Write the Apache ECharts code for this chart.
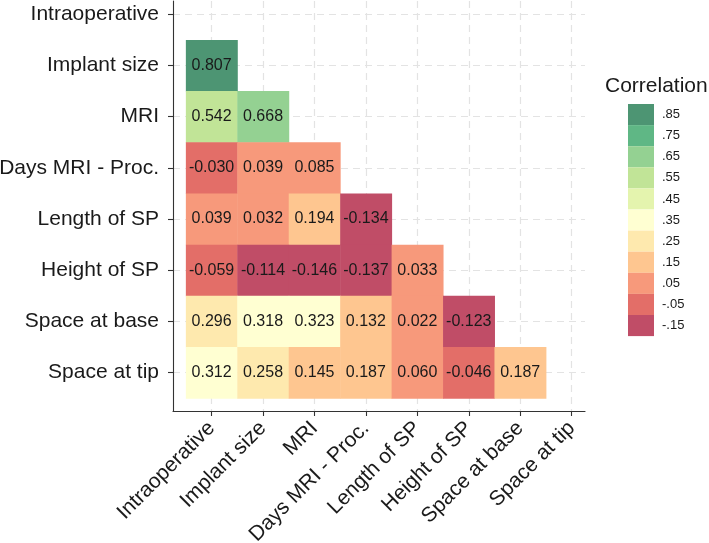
<!DOCTYPE html>
<html>
<head>
<meta charset="utf-8">
<script src="https://cdn.jsdelivr.net/npm/echarts@6/dist/echarts.min.js"></script>
<style>
html,body{margin:0;padding:0;background:#fff;}
#chart{width:709px;height:543px;}
</style>
</head>
<body>
<div id="chart"></div>
<script>
// Category labels (same order on both axes)
const variables = ['Intraoperative', 'Implant size', 'MRI', 'Days MRI - Proc.', 'Length of SP', 'Height of SP', 'Space at base', 'Space at tip'];

// Lower-triangle correlations, one array per row (columns start at 'Intraoperative')
const rowIntraoperative = [];
const rowImplantSize = [0.807];
const rowMRI = [0.542, 0.668];
const rowDaysMRIProc = [-0.030, 0.039, 0.085];
const rowLengthSP = [0.039, 0.032, 0.194, -0.134];
const rowHeightSP = [-0.059, -0.114, -0.146, -0.137, 0.033];
const rowSpaceBase = [0.296, 0.318, 0.323, 0.132, 0.022, -0.123];
const rowSpaceTip = [0.312, 0.258, 0.145, 0.187, 0.060, -0.046, 0.187];

// Legend bins
const binLower = [-0.2, -0.1, 0.0, 0.1, 0.2, 0.3, 0.4, 0.5, 0.6, 0.7, 0.8];
const binUpper = [-0.1, 0.0, 0.1, 0.2, 0.3, 0.4, 0.5, 0.6, 0.7, 0.8, 0.9];
const binLabels = ['-.15', '-.05', '.05', '.15', '.25', '.35', '.45', '.55', '.65', '.75', '.85'];
const binColors = ['#C04D67', '#E36E68', '#F7997B', '#FEC690', '#FEE9AE', '#FFFFD2', '#E4F4AE', '#C1E497', '#94D192', '#5FB785', '#4D9573'];

const rows = [rowIntraoperative, rowImplantSize, rowMRI, rowDaysMRIProc, rowLengthSP, rowHeightSP, rowSpaceBase, rowSpaceTip];
const cellData = [];
rows.forEach(function (vals, r) {
  vals.forEach(function (v, c) { cellData.push([c, r, v]); });
});
const idx = variables.map(function (_, i) { return i; });

const FONT = "'Liberation Sans', Arial, Helvetica, sans-serif";
const chart = echarts.init(document.getElementById('chart'), null, {renderer: 'canvas'});

const axisCommon = {
  type: 'value',
  axisLine: {show: true, onZero: false, lineStyle: {color: '#333', width: 1.1}},
  axisTick: {show: true, length: 5, inside: false, customValues: idx, lineStyle: {color: '#333', width: 1.1}},
  axisLabel: {customValues: idx, formatter: function (v) { return variables[Math.round(v)]; },
              color: '#1a1a1a', fontSize: 21, fontFamily: FONT},
  splitLine: {show: true, lineStyle: {color: '#e3e3e3', width: 1.2, type: [7, 5]}},
  minorTick: {show: false}
};

chart.setOption({
  animation: false,
  backgroundColor: '#fff',
  title: {
    text: 'Correlation', left: 605, top: 76, padding: 0,
    textStyle: {fontSize: 21, fontWeight: 'normal', color: '#1a1a1a', fontFamily: FONT}
  },
  grid: {left: 173, right: 124, top: 1, bottom: 132, containLabel: false, outerBoundsMode: 'none'},
  xAxis: Object.assign({}, axisCommon, {
    min: -0.75, max: 7.26, position: 'bottom',
    axisLabel: Object.assign({}, axisCommon.axisLabel, {rotate: 45, margin: 14})
  }),
  yAxis: Object.assign({}, axisCommon, {
    min: -0.26, max: 7.75, inverse: true, position: 'left',
    axisLabel: Object.assign({}, axisCommon.axisLabel, {margin: 14})
  }),
  visualMap: {
    type: 'piecewise', seriesIndex: 0, dimension: 2, orient: 'vertical', align: 'left',
    left: 628, top: 104, padding: 0,
    itemWidth: 26, itemHeight: 21.1, itemGap: 0, textGap: 8, itemSymbol: 'rect',
    selectedMode: false, hoverLink: false,
    pieces: binLower.map(function (lo, i) {
      return {gte: lo, lt: binUpper[i], label: binLabels[i], color: binColors[i]};
    }),
    textStyle: {fontSize: 13, color: '#1a1a1a', fontFamily: FONT}
  },
  series: [{
    type: 'custom',
    data: cellData,
    encode: {x: 0, y: 1},
    renderItem: function (params, api) {
      const x = api.value(0), y = api.value(1), v = api.value(2);
      const a = api.coord([x - 0.5, y - 0.5]);
      const b = api.coord([x + 0.5, y + 0.5]);
      const x0 = Math.min(a[0], b[0]), y0 = Math.min(a[1], b[1]);
      const w = Math.abs(b[0] - a[0]), h = Math.abs(b[1] - a[1]);
      return {
        type: 'group',
        children: [
          {type: 'rect', shape: {x: x0, y: y0, width: w + 0.5, height: h + 0.5}, style: {fill: api.visual('color')}},
          {type: 'text', style: {text: v.toFixed(3), x: x0 + w / 2, y: y0 + h / 2, align: 'center', verticalAlign: 'middle',
                                 fontSize: 16, fill: '#1a1a1a', fontFamily: FONT}}
        ]
      };
    }
  }]
});
</script>
</body>
</html>
